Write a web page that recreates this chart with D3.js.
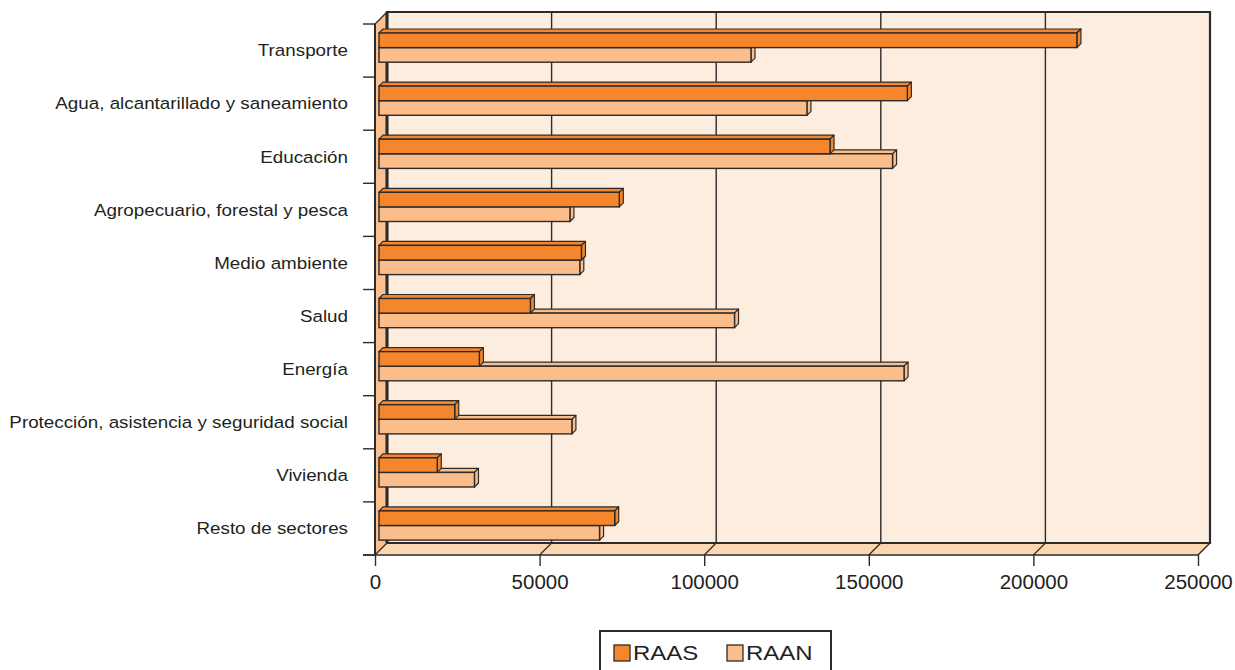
<!DOCTYPE html>
<html>
<head>
<meta charset="utf-8">
<script src="https://cdn.jsdelivr.net/npm/d3@7/dist/d3.min.js"></script>
<style>
  html, body { margin: 0; padding: 0; background: #ffffff; }
  svg { display: block; }
  text { font-family: "Liberation Sans", Arial, Helvetica, sans-serif; fill: #231f20; }
</style>
</head>
<body>
<svg id="chart" width="1235" height="670"></svg>
<script>
// Inversión por sector (RAAS / RAAN)
const categories = [
  "Transporte",
  "Agua, alcantarillado y saneamiento",
  "Educación",
  "Agropecuario, forestal y pesca",
  "Medio ambiente",
  "Salud",
  "Energía",
  "Protección, asistencia y seguridad social",
  "Vivienda",
  "Resto de sectores"
];
const raas = [212000, 160500, 137000, 73000, 61500, 46000, 30500, 23000, 17700, 71600];
const raan = [113000, 130000, 156000, 58000, 61000, 108000, 159500, 58600, 29000, 67000];
const xTicks = [0, 50000, 100000, 150000, 200000, 250000];
const seriesNames = ["RAAS", "RAAN"];

const colors = { RAAS: "#f5862b", RAAN: "#fbbd89" };
const wallColor = "#fdeddf", floorColor = "#fcd6b1", sideColor = "#fbc08f";
const ink = "#2d2a2a";

const svg = d3.select("#chart");

// front-plane scales
const x = d3.scaleLinear().domain([0, 250000]).range([375, 1198]);
const y = d3.scaleBand().domain(categories).range([24, 555]).padding(0);
const D = 12;          // depth of the box
const bd = 4;          // bar offset into the box
const bdepth = 4;      // bar thickness in depth

const x0 = x(0), xMax = x(250000);
const yTop = y.range()[0], yBot = y.range()[1];

const pts = a => a.map(p => p.join(",")).join(" ");

// back wall
svg.append("rect")
  .attr("x", x0 + D).attr("y", yTop - D)
  .attr("width", xMax - x0).attr("height", yBot - yTop)
  .attr("fill", wallColor);

// floor
svg.append("polygon")
  .attr("points", pts([[x0, yBot], [xMax, yBot], [xMax + D, yBot - D], [x0 + D, yBot - D]]))
  .attr("fill", floorColor);

// left side wall
svg.append("polygon")
  .attr("points", pts([[x0, yTop], [x0 + D, yTop - D], [x0 + D, yBot - D], [x0, yBot]]))
  .attr("fill", sideColor);

// gridlines on back wall and floor
xTicks.slice(1, -1).forEach(t => {
  svg.append("line")
    .attr("x1", x(t) + D).attr("x2", x(t) + D)
    .attr("y1", yTop - D).attr("y2", yBot - D)
    .attr("stroke", ink).attr("stroke-width", 1.4);
});
xTicks.slice(0, -1).forEach(t => {
  svg.append("line")
    .attr("x1", x(t) + D).attr("y1", yBot - D)
    .attr("x2", x(t)).attr("y2", yBot)
    .attr("stroke", ink).attr("stroke-width", 1.2);
});

// back wall border
svg.append("path")
  .attr("d", `M${x0 + D},${yBot - D} V${yTop - D} H${xMax + D} V${yBot - D} H${x0 + D}`)
  .attr("fill", "none").attr("stroke", ink).attr("stroke-width", 2.2);
svg.append("line")
  .attr("x1", x0 + D).attr("x2", x0 + D)
  .attr("y1", yTop - D).attr("y2", yBot - D)
  .attr("stroke", ink).attr("stroke-width", 3);

// side wall top edge, floor right edge
svg.append("line")
  .attr("x1", x0).attr("y1", yTop).attr("x2", x0 + D).attr("y2", yTop - D)
  .attr("stroke", ink).attr("stroke-width", 1.2);
svg.append("line")
  .attr("x1", xMax).attr("y1", yBot).attr("x2", xMax + D).attr("y2", yBot - D)
  .attr("stroke", ink).attr("stroke-width", 1.4);

// 3D bars
const barH = 14.6;
const barStart = 9 + bd;   // offset from band top (before depth shift)
const rows = categories.map((c, i) => ({ c, RAAS: raas[i], RAAN: raan[i] }));

function drawBar(g, v, yFront, color) {
  const xa = x(0) + bd, xb = x(v) + bd;
  const ya = yFront - bd, yb = ya + barH;
  // top face
  g.append("polygon")
    .attr("points", pts([[xa, ya], [xb, ya], [xb + bdepth, ya - bdepth], [xa + bdepth, ya - bdepth]]))
    .attr("fill", color).attr("stroke", ink).attr("stroke-width", 1.2).attr("stroke-linejoin", "round");
  // right face
  g.append("polygon")
    .attr("points", pts([[xb, ya], [xb + bdepth, ya - bdepth], [xb + bdepth, yb - bdepth], [xb, yb]]))
    .attr("fill", color).attr("stroke", ink).attr("stroke-width", 1.2).attr("stroke-linejoin", "round");
  // front face
  g.append("rect")
    .attr("x", xa).attr("y", ya).attr("width", xb - xa).attr("height", barH)
    .attr("fill", color).attr("stroke", ink).attr("stroke-width", 1.4);
}

const bars = svg.append("g");
rows.forEach(r => {
  const g = bars.append("g");
  const top = y(r.c) + barStart;
  drawBar(g, r.RAAN, top + barH, colors.RAAN);
  drawBar(g, r.RAAS, top, colors.RAAS);
});

// category axis
svg.append("line")
  .attr("x1", x0).attr("x2", x0).attr("y1", yTop).attr("y2", yBot)
  .attr("stroke", ink).attr("stroke-width", 2);
d3.range(categories.length + 1).forEach(k => {
  const yy = yTop + k * y.step();
  svg.append("line")
    .attr("x1", x0 - 12).attr("x2", x0).attr("y1", yy).attr("y2", yy)
    .attr("stroke", ink).attr("stroke-width", 1.4);
});
svg.append("g").selectAll("text").data(categories).join("text")
  .attr("transform", d => `translate(348,${y(d) + y.bandwidth() / 2}) scale(1.14,1)`)
  .attr("dy", "0.35em")
  .attr("text-anchor", "end")
  .attr("font-size", 16.5)
  .text(d => d);

// value axis
const xAxis = d3.axisBottom(x).tickValues(xTicks).tickSize(11).tickPadding(8).tickFormat(d3.format("d"));
const ax = svg.append("g").attr("transform", `translate(0,${yBot})`).call(xAxis);
ax.select(".domain").remove();
ax.selectAll(".tick line").attr("stroke", ink).attr("stroke-width", 1.4);
ax.selectAll(".tick text")
  .attr("font-size", 20.5)
  .attr("font-family", "Liberation Sans, Arial, sans-serif")
  .attr("fill", "#231f20");
svg.append("line")
  .attr("x1", x0 - 12).attr("x2", xMax).attr("y1", yBot).attr("y2", yBot)
  .attr("stroke", ink).attr("stroke-width", 1.6);

// legend
const lg = svg.append("g");
lg.append("rect")
  .attr("x", 600).attr("y", 631).attr("width", 231).attr("height", 60)
  .attr("fill", "#ffffff").attr("stroke", ink).attr("stroke-width", 2);
const legendX = [614, 727];
seriesNames.forEach((s, i) => {
  lg.append("rect")
    .attr("x", legendX[i]).attr("y", 645).attr("width", 16).attr("height", 16)
    .attr("fill", colors[s]).attr("stroke", ink).attr("stroke-width", 1.3);
  lg.append("text")
    .attr("transform", `translate(${legendX[i] + 19},660) scale(1.2,1)`)
    .attr("font-size", 20)
    .text(s);
});
</script>
</body>
</html>
